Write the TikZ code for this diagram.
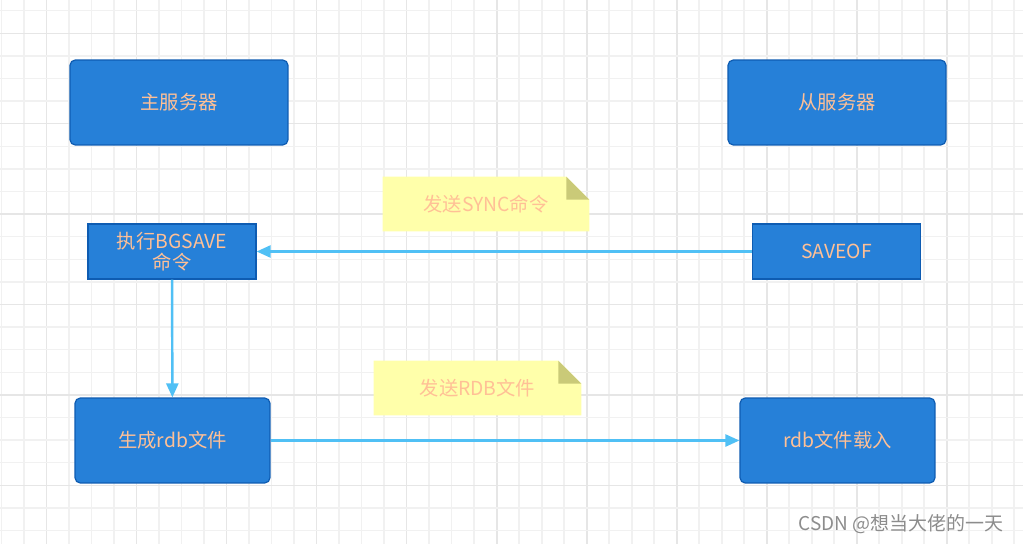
\documentclass[tikz,border=0pt]{standalone}
\usepackage{fontspec}
\newfontfamily\cjk{Noto Sans CJK SC}
\usetikzlibrary{arrows.meta}

\definecolor{boxblue}{RGB}{38,128,216}
\definecolor{boxedge}{RGB}{14,92,178}
\definecolor{peach}{RGB}{255,192,150}
\definecolor{flowblue}{RGB}{80,192,245}
\definecolor{notefill}{RGB}{255,255,170}
\definecolor{notefold}{RGB}{202,202,120}
\definecolor{gridminor}{RGB}{241,241,241}
\definecolor{gridmajor}{RGB}{230,230,230}

\tikzset{
  srvbox/.style={draw=boxedge, fill=boxblue, rounded corners=3pt, line width=0.7pt,
    minimum height=1.7cm, text=peach, font=\cjk\fontsize{11}{12}\selectfont},
  cmdbox/.style={draw=boxedge, fill=boxblue, line width=0.7pt, align=center,
    minimum width=3.36cm, minimum height=1.1cm, text=peach, font=\cjk\fontsize{11}{12}\selectfont},
  notebox/.style={minimum width=4.12cm, minimum height=1.08cm, text=peach,
    font=\cjk\fontsize{11}{12}\selectfont},
  flow/.style={draw=flowblue, line width=1.4pt, -{Triangle[length=0.28cm,width=0.24cm]}}
}

\begin{document}
\begin{tikzpicture}[x=0.02cm, y=-0.02cm]
  \useasboundingbox[fill=white] (0,0) rectangle (1023,544);
  \foreach \k in {0,...,45} { % grid, vertical
    \pgfmathtruncatemacro\r{mod(\k,4)}
    \ifnum\r=2 \def\gc{gridmajor}\else\def\gc{gridminor}\fi
    \draw[\gc, line width=0.9pt] ({1.7+\k*22.5},0) -- ++(0,544);
  }
  \foreach \k in {0,...,23} { % grid, horizontal
    \pgfmathtruncatemacro\r{mod(\k,4)}
    \ifnum\r=1 \def\gc{gridmajor}\else\def\gc{gridminor}\fi
    \draw[\gc, line width=0.9pt] (0,{10.7+\k*22.6}) -- ++(1023,0);
  }

  \node[srvbox, minimum width=4.36cm] (master) at (179,102.5) {主服务器};
  \node[srvbox, minimum width=4.36cm] (slave) at (837,102.5) {从服务器};
  \node[cmdbox] (bgsave) at (172,251.5) {执行BGSAVE\\命令};
  \node[cmdbox] (saveof) at (836.5,251.5) {SAVEOF};
  \node[srvbox, minimum width=3.9cm] (genrdb) at (172.5,440.5) {生成rdb文件};
  \node[srvbox, minimum width=3.9cm] (loadrdb) at (837.5,440.5) {rdb文件载入};

  \node[notebox] (sync) at (486,204) {};
  \node[notebox, minimum width=4.14cm] (sendrdb) at (477.5,388) {};
  \foreach \n in {sync,sendrdb} {
    \fill[notefill] (\n.north west) -- ([xshift=-0.46cm]\n.north east)
      -- ([yshift=-0.46cm]\n.north east) -- (\n.south east) -- (\n.south west) -- cycle;
    \fill[notefold] ([xshift=-0.46cm]\n.north east) -- ([xshift=-0.46cm,yshift=-0.46cm]\n.north east)
      -- ([yshift=-0.46cm]\n.north east) -- cycle;
  }
  \node[notebox] at (sync) {发送SYNC命令};
  \node[notebox] at (sendrdb) {发送RDB文件};

  \draw[flow] (saveof) -- (bgsave);
  \draw[flow] (bgsave) -- (genrdb);
  \draw[flow] (genrdb) -- (loadrdb);

  \node[text=black!45, font=\cjk\fontsize{10.8}{12}\selectfont] (mark) at (901,524) {CSDN @想当大佬的一天};
\end{tikzpicture}
\end{document}
